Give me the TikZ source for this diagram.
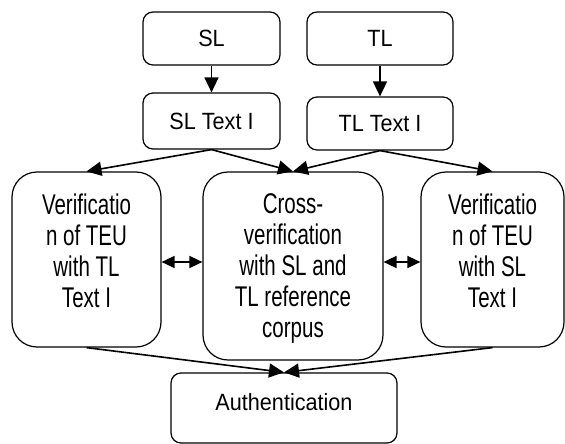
\documentclass[tikz,border=0pt]{standalone}
\usepackage{fontspec}
\newfontfamily\boxfont{Liberation Sans}[FakeStretch=0.92]
\newfontfamily\tallfont{Liberation Sans}[FakeStretch=0.72]
\usetikzlibrary{arrows.meta}

\tikzset{
  smallbox/.style={draw, line width=1.2pt, rounded corners=10pt, inner sep=0pt,
    font=\boxfont\fontsize{23.5pt}{27pt}\selectfont},
  tallbox/.style={draw, line width=1.2pt, rounded corners=25pt, inner sep=0pt},
  boxtext/.style={anchor=north, yshift=-22pt, align=center, inner sep=0pt,
    font=\tallfont\fontsize{28.5pt}{31pt}\selectfont},
  arr/.style={line width=1.6pt, -{Triangle[length=15pt,width=14pt]}},
  dblarr/.style={line width=1.6pt, {Triangle[length=13pt,width=12pt]}-{Triangle[length=13pt,width=12pt]}}
}

\begin{document}
\begin{tikzpicture}[x=1pt,y=-1pt]
    \useasboundingbox (0,0) rectangle (565,444);
    % sources
    \node[smallbox, minimum width=137pt, minimum height=53pt] (sl) at (211.5,38.5) {SL};
    \node[smallbox, minimum width=146pt, minimum height=53pt] (tl) at (380,38.5) {TL};
    \node[smallbox, minimum width=137pt, minimum height=56pt] (slt) at (211.5,121) {SL Text I};
    \node[smallbox, minimum width=146pt, minimum height=53pt] (tlt) at (380,123.5) {TL Text I};
    % verification boxes
    \node[tallbox, minimum width=149pt, minimum height=175pt,
        label={[boxtext]north:{Verificatio\\n of TEU\\with TL\\Text I}}] (vtl) at (86.5,259.5) {};
    \node[tallbox, minimum width=180pt, minimum height=188pt,
        label={[boxtext]north:{Cross-\\verification\\with SL and\\TL reference\\corpus}}] (cross) at (293,266) {};
    \node[tallbox, minimum width=143pt, minimum height=175pt,
        label={[boxtext]north:{Verificatio\\n of TEU\\with SL\\Text I}}] (vsl) at (492.5,259.5) {};
    \node[smallbox, minimum width=226pt, text height=37pt, text depth=33pt] (auth) at (284,408) {Authentication};
    % connectors
    \draw[arr] (sl.south) -- (slt.north);
    \draw[arr] (tl.south) -- (tl.south |- tlt.north);
    \draw[arr] (slt.south) -- (vtl.north);
    \draw[arr] (slt.south) -- (cross.north);
    \draw[arr] (tlt.south) -- (cross.north);
    \draw[arr] (tlt.south) -- (vsl.north);
    \draw[dblarr] ([yshift=-2.5pt]vtl.east) -- ([yshift=-2.5pt]vtl.east -| cross.west);
    \draw[dblarr] ([yshift=-2.5pt]vsl.west -| cross.east) -- ([yshift=-2.5pt]vsl.west);
    \draw[arr] (vtl.south) -- (auth.north);
    \draw[arr] (vsl.south) -- (auth.north);
\end{tikzpicture}
\end{document}
